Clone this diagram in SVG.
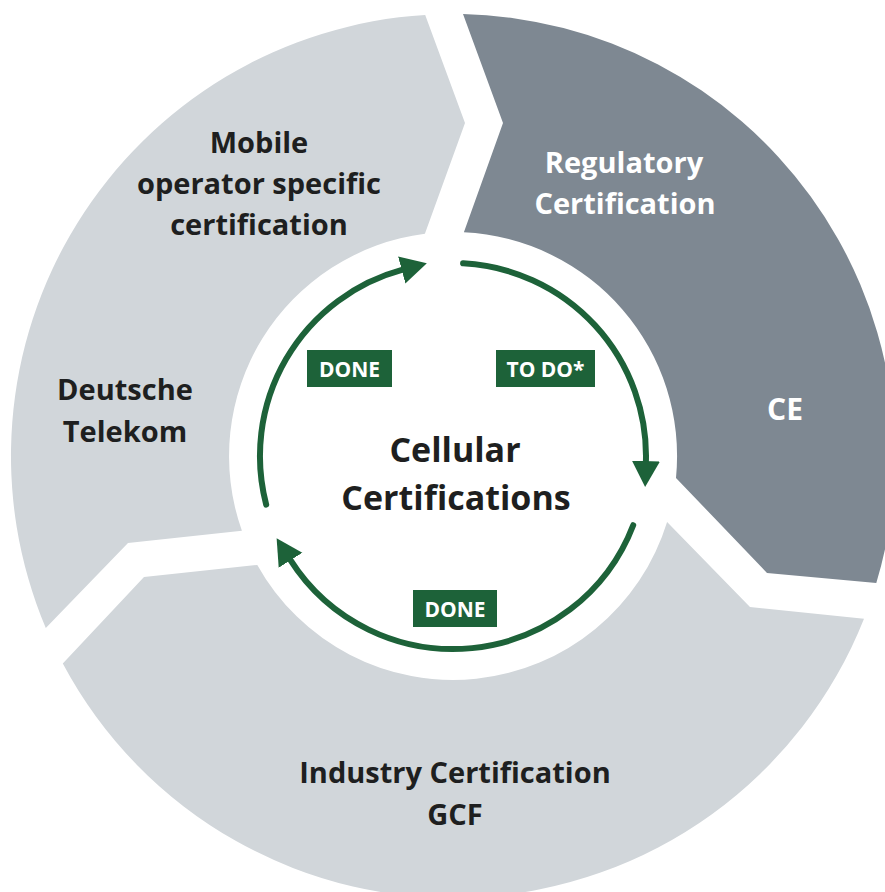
<svg xmlns="http://www.w3.org/2000/svg" width="885" height="892" viewBox="0 0 885 892">
  <defs>
    <style>
      .seg-light { fill: #d1d6da; }
      .seg-dark { fill: #7e8892; }
      .lbl { font-family: "Open Sans", "Liberation Sans", sans-serif; font-weight: 700; text-anchor: middle; }
      .dark-txt { fill: #1e1f20; font-size: 29px; }
      .light-txt { fill: #ffffff; font-size: 29px; }
      .center-txt { fill: #1e1f20; font-size: 34px; }
      .badge rect { fill: #1d6239; }
      .badge text { fill: #ffffff; font-size: 21px; font-family: "Open Sans", "Liberation Sans", sans-serif; font-weight: 700; text-anchor: middle; }
      .flow { fill: none; stroke: #1d6239; stroke-width: 6; stroke-linecap: round; marker-end: url(#arrow); }
    </style>
    <marker id="arrow" markerUnits="userSpaceOnUse" markerWidth="28" markerHeight="30" viewBox="0 0 28 30" refX="1" refY="15" orient="auto">
      <path d="M0,1 L26,15 L0,29 Z" fill="#1d6239"/>
    </marker>
  </defs>

  <rect width="885" height="892" fill="#ffffff"/>

  <g id="mobile-operator">
    <path class="seg-light" d="M45.8,628 A442,442 0 0 1 425.2,14.9 L465,123 L424.9,233.8 A224,224 0 0 0 241.9,530.8 L128,543 Z"/>
    <text class="lbl dark-txt" x="259" y="153">Mobile</text>
    <text class="lbl dark-txt" x="259" y="194">operator specific</text>
    <text class="lbl dark-txt" x="259" y="235">certification</text>
    <text class="lbl dark-txt" x="125" y="400">Deutsche</text>
    <text class="lbl dark-txt" x="125" y="442">Telekom</text>
  </g>

  <g id="regulatory">
    <path class="seg-dark" d="M463,14.1 A442,442 0 0 1 876.3,583 L767,573 L676,477.9 A224,224 0 0 0 463.9,232.3 L503,123 Z"/>
    <text class="lbl light-txt" x="624" y="173">Regulatory</text>
    <text class="lbl light-txt" x="625" y="214">Certification</text>
    <text class="lbl light-txt" x="785" y="420" style="font-size:30px">CE</text>
  </g>

  <g id="industry">
    <path class="seg-light" d="M864,618.7 A442,442 0 0 1 62.8,663.5 L144,577 L257.3,564.9 A224,224 0 0 0 667.1,521.9 L750,607 Z"/>
    <text class="lbl dark-txt" x="455" y="783">Industry Certification</text>
    <text class="lbl dark-txt" x="455" y="825">GCF</text>
  </g>

  <g id="center">
    <text class="lbl center-txt" x="455" y="462">Cellular</text>
    <text class="lbl center-txt" x="456" y="510">Certifications</text>
  </g>

  <g id="connectors">
    <path class="flow" d="M266.2,504.7 A193,193 0 0 1 402.7,269.7"/>
    <path class="flow" d="M463.1,263.3 A193,193 0 0 1 645.9,462.1"/>
    <path class="flow" d="M633.2,525.2 A193,193 0 0 1 290,559.4"/>
  </g>

  <g id="badge-done-left" class="badge">
    <rect x="307" y="350" width="85" height="37"/>
    <text x="349.5" y="377">DONE</text>
  </g>
  <g id="badge-todo" class="badge">
    <rect x="496" y="350" width="99" height="37"/>
    <text x="545.5" y="377">TO DO*</text>
  </g>
  <g id="badge-done-bottom" class="badge">
    <rect x="413" y="590" width="84" height="37"/>
    <text x="455" y="617">DONE</text>
  </g>
</svg>
